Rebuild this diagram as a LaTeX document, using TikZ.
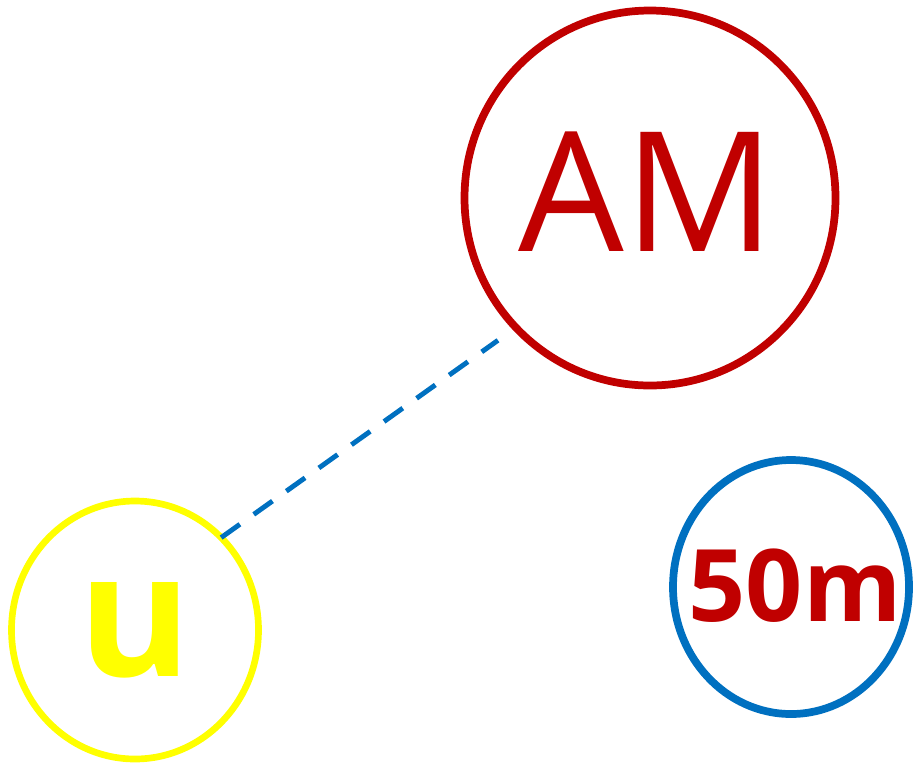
\documentclass[tikz,border=0pt]{standalone}
\usepackage{fontspec}
\setmainfont{Open Sans}
\usepackage{tikz}
\usetikzlibrary{shapes.geometric}
\definecolor{amred}{RGB}{192,0,0}
\definecolor{lineblue}{RGB}{0,112,192}
\definecolor{uyellow}{RGB}{255,255,0}

\begin{document}
\begin{tikzpicture}[
  ring/.style={ellipse, inner sep=0pt, outer sep=0pt},
  link/.style={lineblue, line width=2.8pt, dash pattern=on 0.46cm off 0.34cm}
]
\useasboundingbox (0,0) rectangle (18.4,-15.26);

\node[ring, draw=amred, line width=4.4pt, minimum width=7.42cm, minimum height=7.5cm,
      label={[text=amred, font=\fontsize{95}{95}\selectfont, xshift=-0.06cm, yshift=0.12cm]center:AM}] (am) at (13.0,-3.96) {};
\node[ring, draw=uyellow, line width=3.8pt, minimum width=4.94cm, minimum height=5.16cm,
      label={[text=uyellow, font=\fontsize{98}{98}\selectfont\bfseries]center:u}] (u) at (2.70,-12.60) {};
\node[ring, draw=lineblue, line width=4.4pt, minimum width=4.72cm, minimum height=5.08cm,
      label={[text=amred, font=\fontsize{57}{57}\selectfont\bfseries, xshift=0.08cm, yshift=0.03cm]center:50m}] (dist) at (15.82,-11.74) {};

\draw[link, shorten >=0.44cm] (u.47) -- (am.224);
\end{tikzpicture}
\end{document}
